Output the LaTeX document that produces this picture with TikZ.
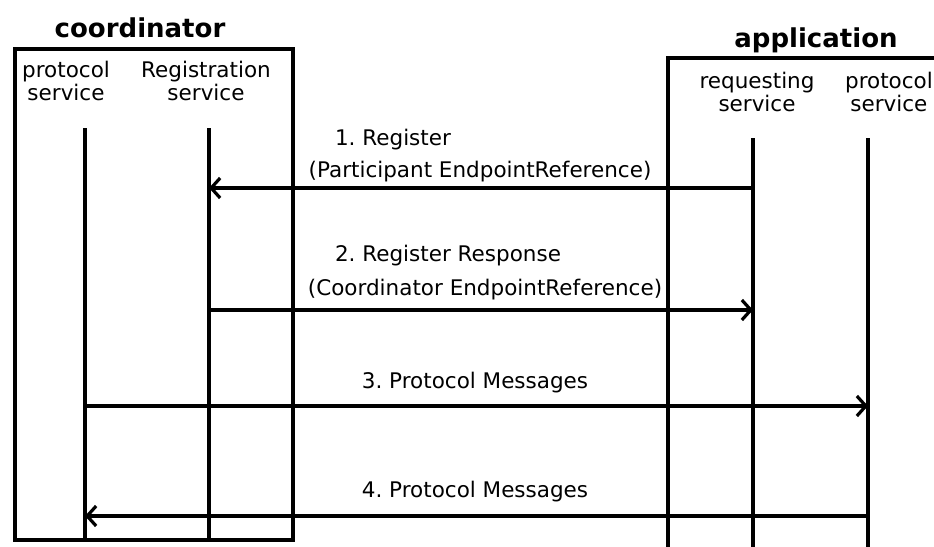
\documentclass[tikz,border=0pt]{standalone}
\usepackage{fontspec}
\setmainfont{DejaVu Sans}
\frenchspacing
\usetikzlibrary{arrows.meta}
\begin{document}
\begin{tikzpicture}[x=1pt,y=-1pt,
  lbl/.style={font=\fontsize{21.5}{24}\selectfont, inner sep=0pt},
  hdr/.style={font=\fontsize{21.5}{23}\selectfont, align=center, inner sep=0pt},
  ttl/.style={font=\bfseries\fontsize{26}{30}\selectfont, inner sep=0pt},
  life/.style={line width=3.2pt},
  boxline/.style={draw, line width=3.2pt, inner sep=0pt},
  msg/.style={line width=3.2pt, -{Straight Barb[length=9pt,width=20pt]}}]
\useasboundingbox (0,0) rectangle (934,546);
\clip (0,0) rectangle (934,546);
% titles
\node[ttl] (tcoord) at (140,28) {coordinator};
\node[ttl] (tapp) at (816,40) {application};
% boxes
\node[boxline, minimum width=278pt, minimum height=491pt] (cbox) at (154,294.5) {};
\node[boxline, minimum width=300pt, minimum height=520pt] (abox) at (818,318) {};
% headers
\node[hdr] (hcp) at (66,81) {protocol\\service};
\node[hdr] (hrs) at (206,81) {Registration\\service};
\node[hdr] (hrq) at (757,92) {requesting\\service};
\node[hdr, anchor=east] (hap) at (933,92) {protocol\\service};
% lifelines
\coordinate (cpT) at (85,128);   \coordinate (cpB) at (85,539);
\coordinate (rsT) at (209,128);  \coordinate (rsB) at (209,540);
\coordinate (rqT) at (753,138);  \coordinate (rqB) at (753,560);
\coordinate (apT) at (868,138);  \coordinate (apB) at (868,560);
\draw[life] (cpT) -- (cpB);
\draw[life] (rsT) -- (rsB);
\draw[life] (rqT) -- (rqB);
\draw[life] (apT) -- (apB);
% message endpoints
\coordinate (m1a) at (753,188); \coordinate (m1b) at (209,188);
\coordinate (m2a) at (209,310); \coordinate (m2b) at (753,310);
\coordinate (m3a) at (85,406);  \coordinate (m3b) at (868,406);
\coordinate (m4a) at (868,516); \coordinate (m4b) at (85,516);
\draw[msg] (m1a) -- (m1b);
\draw[msg] (m2a) -- (m2b);
\draw[msg] (m3a) -- (m3b);
\draw[msg] (m4a) -- (m4b);
% labels
\node[lbl] (l1a) at (393,140) {1. Register};
\node[lbl] (l1b) at (480,172) {(Participant EndpointReference)};
\node[lbl] (l2a) at (448,256) {2. Register Response};
\node[lbl] (l2b) at (485,290) {(Coordinator EndpointReference)};
\node[lbl] (l3) at (475,383) {3. Protocol Messages};
\node[lbl] (l4) at (475,492) {4. Protocol Messages};
\end{tikzpicture}
\end{document}
